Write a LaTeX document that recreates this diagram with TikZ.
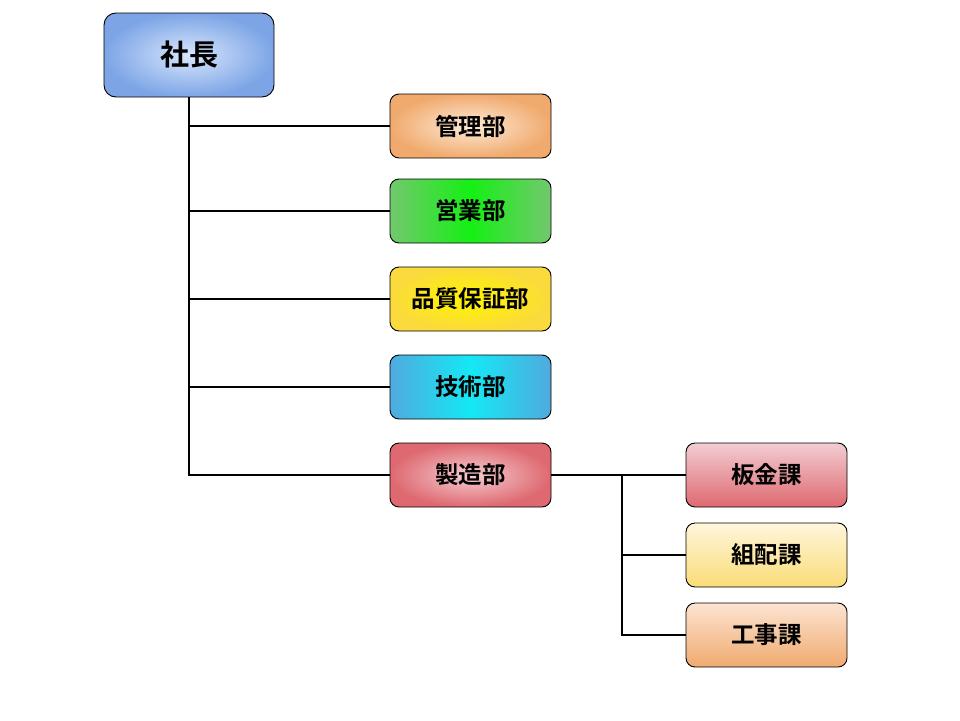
\documentclass[tikz,border=0pt]{standalone}
\usepackage{fontspec}
\setmainfont{Noto Sans CJK JP}[BoldFont={Noto Sans CJK JP Bold}]
\usepackage{xcolor}
\usepackage{tikz}
\usetikzlibrary{positioning,calc}

\definecolor{ceoEdge}{RGB}{125,165,230}
\definecolor{ceoMid}{RGB}{215,230,252}
\definecolor{orgEdge}{RGB}{240,170,110}
\definecolor{orgMid}{RGB}{254,235,215}
\definecolor{grnEdge}{RGB}{115,200,110}
\definecolor{grnMid}{RGB}{20,240,20}
\definecolor{ylwEdge}{RGB}{250,218,60}
\definecolor{ylwMid}{RGB}{255,245,0}
\definecolor{cynEdge}{RGB}{80,170,222}
\definecolor{cynMid}{RGB}{20,232,245}
\definecolor{redEdge}{RGB}{222,105,112}
\definecolor{redMid}{RGB}{245,205,210}
\definecolor{redTop}{RGB}{242,205,210}
\definecolor{pylTop}{RGB}{255,246,220}
\definecolor{pylBot}{RGB}{250,220,120}
\definecolor{orgTop}{RGB}{252,228,210}

\begin{document}
\begin{tikzpicture}[
    x=1pt, y=-1pt,
    box/.style={draw, rounded corners=9pt, line width=0.9pt, minimum width=161pt,
        minimum height=64pt, font=\fontsize{23.5}{26}\selectfont\bfseries},
    topbox/.style={box, minimum width=170pt, minimum height=84pt, rounded corners=12pt,
        font=\fontsize{29}{32}\selectfont\bfseries},
    link/.style={line width=2.9pt}
]
    \useasboundingbox (0,0) rectangle (960,720);

    \node[topbox, inner color=ceoMid, outer color=ceoEdge] (ceo) at (189,55) {社長};

    \node[box, inner color=orgMid, outer color=orgEdge] (kanri) at (470.5,126) {管理部};
    \node[box, left color=grnEdge, right color=grnEdge, middle color=grnMid] (eigyo) at (470.5,211) {営業部};
    \node[box, inner color=ylwMid, outer color=ylwEdge] (hinsho) at (470.5,299) {品質保証部};
    \node[box, left color=cynEdge, right color=cynEdge, middle color=cynMid] (gijutsu) at (470.5,387) {技術部};
    \node[box, inner color=redMid, outer color=redEdge] (seizo) at (470.5,475) {製造部};

    \node[box, top color=redTop, bottom color=redEdge] (bankin) at (766.5,475) {板金課};
    \node[box, top color=pylTop, bottom color=pylBot] (kumihai) at (766.5,555) {組配課};
    \node[box, top color=orgTop, bottom color=orgEdge] (koji) at (766.5,635) {工事課};

    % 社長から各部へ
    \draw[link] (ceo.south) |- (seizo.west);
    \foreach \dept in {kanri,eigyo,hinsho,gijutsu}
        \draw[link] (ceo.south |- \dept.west) -- (\dept.west);

    % 製造部から各課へ
    \coordinate (split) at (622,475);
    \draw[link] (seizo.east) -- (bankin.west);
    \draw[link] (split) |- (koji.west);
    \draw[link] (split |- kumihai.west) -- (kumihai.west);
\end{tikzpicture}
\end{document}
